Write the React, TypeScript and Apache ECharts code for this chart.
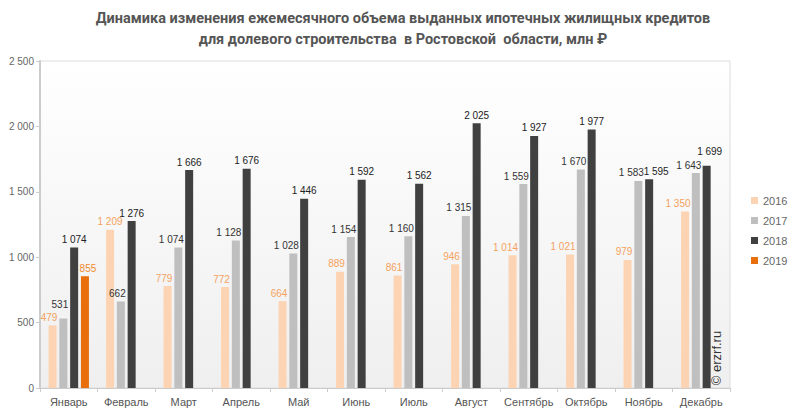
import React, { useEffect, useRef } from "react";
import * as echarts from "echarts";

const months = ["Январь", "Февраль", "Март", "Апрель", "Май", "Июнь", "Июль", "Август", "Сентябрь", "Октябрь", "Ноябрь", "Декабрь"];
const v2016 = [479, 1209, 779, 772, 664, 889, 861, 946, 1014, 1021, 979, 1350];
const v2017 = [531, 662, 1074, 1128, 1028, 1154, 1160, 1315, 1559, 1670, 1583, 1643];
const v2018 = [1074, 1276, 1666, 1676, 1446, 1592, 1562, 2025, 1927, 1977, 1595, 1699];
const v2019: (number | null)[] = [855, null, null, null, null, null, null, null, null, null, null, null];
const years = ["2016", "2017", "2018", "2019"];
const colors = ["#fdd4b3", "#bfbfbf", "#404040", "#e86f0c"];
const labelColors = ["#f4a25e", "#333333", "#222222", "#f08a2c"];

// extra label nudges (series index, month index) -> [dx, dy]
const labelNudges: Record<string, [number, number]> = {
  "1-0": [0, -6],
  "2-10": [7, 0],
  "2-11": [3, -6],
  "3-0": [3, 0],
};

const fmt = (n: number) => String(n).replace(/\B(?=(\d{3})+(?!\d))/g, " ");
const FONT = "Liberation Sans, Arial, sans-serif";

export default function App() {
  const ref = useRef<HTMLDivElement>(null);
  useEffect(() => {
    if (!ref.current) return;
    const chart = echarts.init(ref.current, null, { renderer: "svg" });
    const all = [v2016, v2017, v2018, v2019];
    const series = all.map((arr, i) => ({
      name: years[i],
      type: "bar",
      barWidth: 8,
      barGap: "35%",
      itemStyle: { color: colors[i] },
      label: {
        show: true,
        position: "top",
        distance: 3,
        color: labelColors[i],
        fontSize: 10,
        fontFamily: FONT,
        formatter: (p: any) => fmt(p.value),
      },
      data: arr.map((v, m) => {
        if (v == null) return "-";
        const next = i < 3 ? all[i + 1][m] : null;
        const shift = next != null && next > v ? (v >= 1000 ? -7 : -3.5) : 0;
        const n = labelNudges[`${i}-${m}`] || [0, 0];
        return { value: v, label: { offset: [shift + n[0], n[1]] } };
      }),
    }));
    chart.setOption({
      animation: false,
      title: {
        text: "Динамика изменения ежемесячного объема выданных ипотечных жилищных кредитов\nдля долевого строительства  в Ростовской  области, млн ₽",
        left: 398,
        textAlign: "center",
        top: 3,
        textStyle: {
          fontFamily: "Roboto, sans-serif",
          fontWeight: "bold",
          fontSize: 14.5,
          color: "#555555",
          lineHeight: 21,
        },
      },
      legend: {
        orient: "vertical",
        left: 746,
        top: 190,
        itemWidth: 7,
        itemHeight: 7,
        itemGap: 9,
        icon: "rect",
        data: years,
        textStyle: { fontSize: 11, color: "#666", fontFamily: FONT },
      },
      grid: {
        left: 40,
        right: 63,
        top: 61,
        bottom: 27,
        show: true,
        borderColor: "#dddddd",
        borderWidth: 1,
        backgroundColor: new echarts.graphic.LinearGradient(0, 0, 0, 1, [
          { offset: 0, color: "#ffffff" },
          { offset: 1, color: "#efefef" },
        ]),
      },
      xAxis: {
        type: "category",
        data: months,
        axisLine: { lineStyle: { color: "#cccccc", width: 1 } },
        axisTick: { show: true, length: 4, lineStyle: { color: "#cccccc" } },
        axisLabel: { color: "#555", fontSize: 11, margin: 8, fontFamily: FONT, interval: 0 },
      },
      yAxis: {
        type: "value",
        min: 0,
        max: 2500,
        interval: 500,
        axisLine: { show: true, lineStyle: { color: "#cccccc", width: 2 } },
        axisTick: { show: true, length: 4, lineStyle: { color: "#cccccc" } },
        splitLine: { show: false },
        axisLabel: { color: "#666", fontSize: 10, margin: 6, fontFamily: FONT, formatter: (v: number) => fmt(v) },
      },
      graphic: [
        {
          type: "text",
          x: 716,
          y: 358,
          rotation: Math.PI / 2,
          z: 30,
          style: {
            text: "© erzrf.ru",
            fontSize: 13,
            fill: "#333",
            fontFamily: FONT,
            align: "center",
            verticalAlign: "middle",
          },
        },
      ],
      series,
    });
    return () => chart.dispose();
  }, []);
  return <div ref={ref} style={{ width: 793, height: 415, position: "absolute", left: 0, top: 0 }} />;
}
